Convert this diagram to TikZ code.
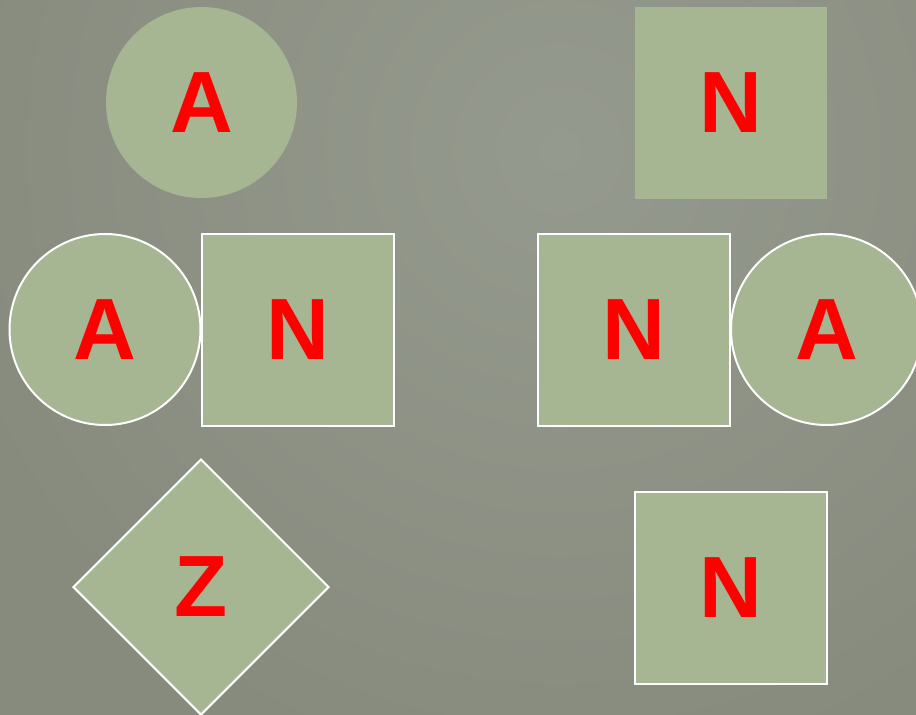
\documentclass[tikz,border=0pt]{standalone}
\usepackage{fontspec}
\setmainfont{Liberation Sans}
\usetikzlibrary{shapes.geometric}

\definecolor{slate}{HTML}{878B7E}
\definecolor{slatelight}{HTML}{959A8E}
\definecolor{sage}{HTML}{A6B592}

\begin{document}
\begin{tikzpicture}[x=1pt,y=-1pt]
		\tikzstyle{every node}=[font=\fontsize{87pt}{100pt}\selectfont\bfseries, text=red, fill=sage, inner sep=0pt]
		\tikzstyle{blob}=[circle, minimum size=191pt]
		\tikzstyle{tile}=[rectangle, minimum size=192pt]
		\tikzstyle{gem}=[diamond, minimum size=256pt]
		\tikzstyle{rim}=[draw=white, line width=2pt]
		
		\useasboundingbox (0,0) rectangle (916,715);
		\clip (0,0) rectangle (916,715);
		\fill[slate] (0,0) rectangle (916,715);
		\shade[inner color=slatelight, outer color=slate] (560,150) circle (640);
		
		\node[blob] (topA) at (201.5,102.5) {A};
		\node[tile] (topN) at (731,103) {N};
		
		\node[blob, rim] (leftA) at (105,329.5) {A};
		\node[tile, rim] (leftN) at (297.5,329.5) {N};
		\node[tile, rim] (rightN) at (633.5,329.5) {N};
		\node[blob, rim] (rightA) at (826.5,329.5) {A};
		
		\node[gem, rim] (bottomZ) at (201,587) {Z};
		\node[tile, rim] (bottomN) at (730.5,587.5) {N};
		
	\end{tikzpicture}
\end{document}
